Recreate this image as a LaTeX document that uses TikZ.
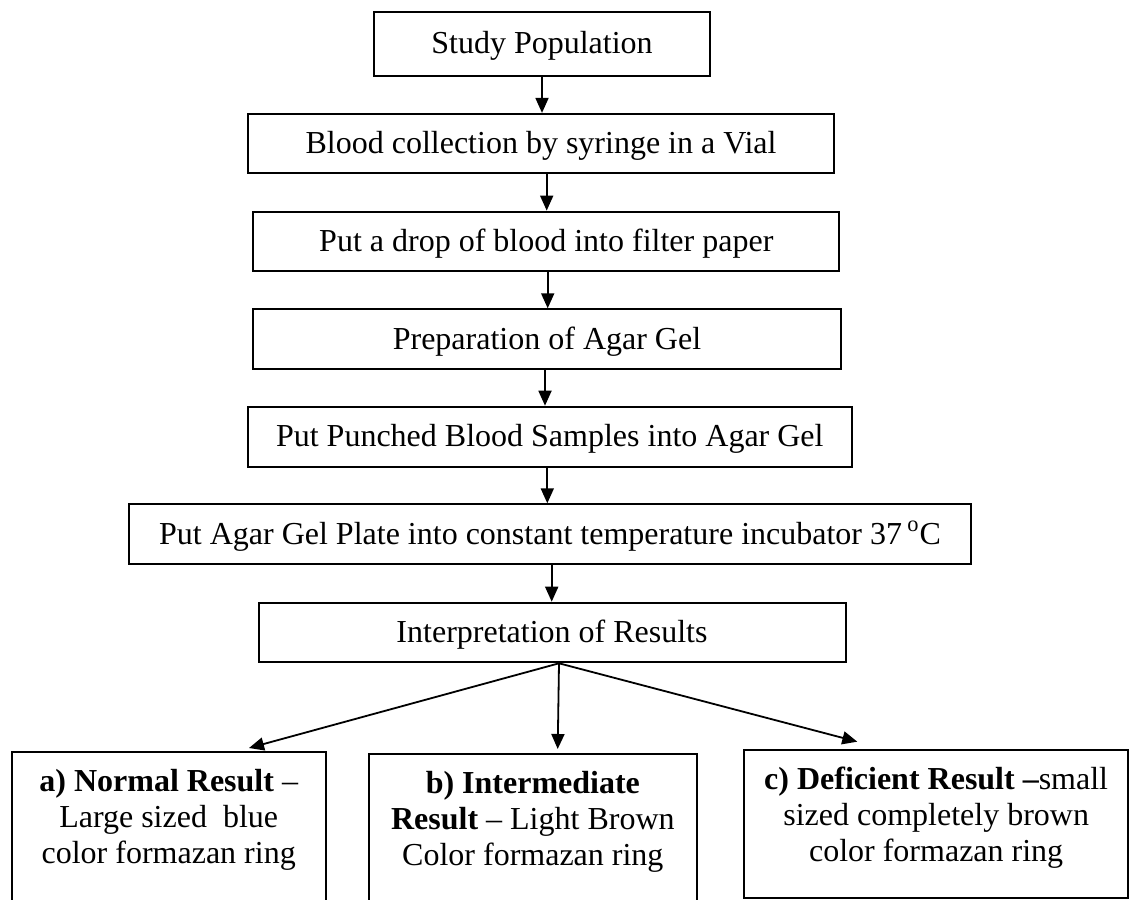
\documentclass[tikz,border=0pt]{standalone}
\usepackage{fontspec}
\setmainfont{Liberation Serif}
\usetikzlibrary{arrows.meta}
\begin{document}
\begin{tikzpicture}[x=0.5pt,y=-0.5pt,
  txt/.style={font=\fontsize{16}{18}\selectfont},
  stepbox/.style={txt, draw, line width=1pt, inner sep=0pt,
    text height=11pt, text depth=1pt},
  resbox/.style={txt, draw, line width=1pt, anchor=north, align=flush center,
    inner xsep=2pt, inner ysep=8.5pt, text height=11pt},
  arr/.style={line width=0.9pt, -{Triangle[length=7.5pt,width=6.5pt]}}]
\useasboundingbox (0,0) rectangle (1129,899);
\clip (0,0) rectangle (1129,899);

% main sequence of steps
\node[stepbox, minimum width=168pt,   minimum height=32.2pt] (b1) at (542,43.8)    {Study Population};
\node[stepbox, minimum width=293pt,   minimum height=29.7pt] (b2) at (541,143.6)   {Blood collection by syringe in a Vial};
\node[stepbox, minimum width=293pt,   minimum height=29.7pt] (b3) at (546.3,241.3) {Put a drop of blood into filter paper};
\node[stepbox, minimum width=293.7pt, minimum height=29.9pt] (b4) at (547,339.2)   {Preparation of Agar Gel};
\node[stepbox, minimum width=302.2pt, minimum height=30pt]   (b5) at (549.8,436.7) {Put Punched Blood Samples into Agar Gel};
\node[stepbox, minimum width=420.7pt, minimum height=30pt]   (b6) at (550,534.3)   {Put Agar Gel Plate into constant temperature incubator 37\,\textsuperscript{o}C};
\node[stepbox, minimum width=293.5pt, minimum height=29.8pt] (b7) at (552,632.5)   {Interpretation of Results};

% possible outcomes
\node[resbox, text width=153pt, text depth=80pt] (ra) at (168.7,751)
  {\textbf{a) Normal Result} –\\Large sized\ \ blue\\color formazan ring};
\node[resbox, text width=159.85pt, text depth=80pt] (rb) at (532.85,753.3)
  {\textbf{b) Intermediate}\\\textbf{Result} – Light Brown\\Color formazan ring};
\node[resbox, text width=188.15pt, text depth=45.7pt] (rc) at (936.15,749.3)
  {\textbf{c) Deficient Result –}small\\sized completely brown\\color formazan ring};

% vertical connectors between steps
\foreach \a/\b/\dx in {b1/b2/0, b2/b3/5.7, b3/b4/1.4, b4/b5/-2, b5/b6/-2.5, b6/b7/1.7}
  \draw[arr] ([shift={(\dx,0)}]\a.south) -- ([shift={(\dx,0)}]\a.south |- \b.north);

% branches to the outcomes
\coordinate (fork) at ([shift={(7,0)}]b7.south);
\draw[arr] (fork) -- ([shift={(80.3,-3)}]ra.north);
\draw[arr] (fork) -- ([shift={(24.85,-4.3)}]rb.north);
\draw[arr] (fork) -- ([shift={(-78.85,-7.6)}]rc.north);
\end{tikzpicture}
\end{document}
